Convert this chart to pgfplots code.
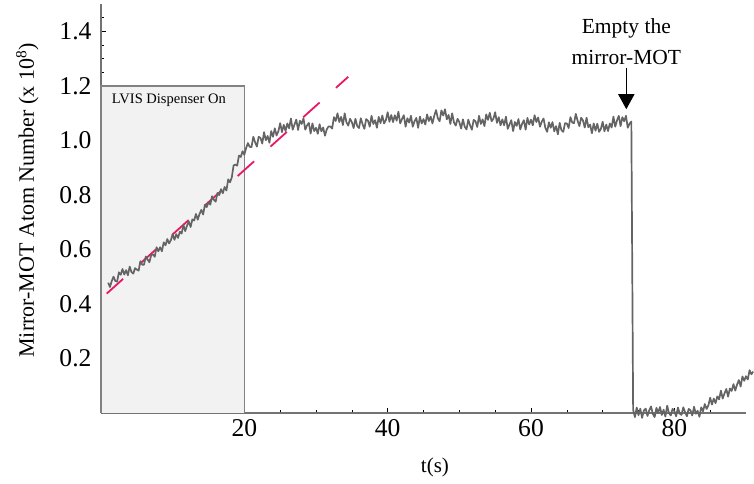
\documentclass[border=0pt]{standalone}
\usepackage{fontspec}
\setmainfont{Liberation Serif}
\usepackage{pgfplots}
\pgfplotsset{compat=1.18}
\usetikzlibrary{arrows.meta}
\definecolor{trace}{RGB}{100,100,100}
\definecolor{fitred}{RGB}{232,24,100}
\definecolor{boxfill}{RGB}{242,242,242}
\definecolor{boxedge}{RGB}{130,130,130}
\definecolor{axgray}{RGB}{115,115,115}
\begin{document}
\begin{tikzpicture}
\begin{axis}[name=ax, scale only axis, width=645bp, height=409bp,
  xmin=0, xmax=90, ymin=0, ymax=1.5,
  axis x line=bottom, axis y line=left,
  axis line style={-, draw=axgray, line width=1.6bp},
  xtick={20,40,60,80},
  minor xtick={5,10,15,25,30,35,45,50,55,65,70,75,85},
  ytick={0.2,0.4,0.6,0.8,1.0,1.2,1.4},
  minor ytick={0.05,0.1,0.15,0.25,0.3,0.35,0.45,0.5,0.55,0.65,0.7,0.75,0.85,0.9,0.95,1.05,1.1,1.15,1.25,1.3,1.35,1.45},
  tick align=inside, major tick length=5bp, minor tick length=3bp,
  tick style={black, line width=0.6bp},
  /pgf/number format/assume math mode=true,
  tick label style={font=\fontsize{25.6bp}{30bp}\selectfont, text=black},
  xticklabel style={yshift=-3bp},
  yticklabel style={xshift=-6bp, /pgf/number format/fixed, /pgf/number format/fixed zerofill, /pgf/number format/precision=1},
  clip=false,
]
% shaded dispenser-on region
\fill[boxfill] (axis cs:0,0) rectangle (axis cs:20,1.2);
\draw[boxedge, line width=1.5bp] (axis cs:0,0) -- (axis cs:0,1.2) -- (axis cs:20,1.2) -- (axis cs:20,0);
\node[anchor=base west, inner sep=0pt, font=\fontsize{14.5bp}{17bp}\selectfont] at (axis cs:1.5,1.135) {LVIS Dispenser On};
% linear fit
\addplot[fitred, line width=1.8bp, dash pattern=on 22bp off 22bp, forget plot] coordinates {(0.8,0.438) (34.5,1.233)};
% trace
\addplot[trace, line width=1.7bp, line join=round, sharp plot, forget plot] table[x expr={1+0.25*\coordindex}, y index=0, header=false] {
0.478
0.462
0.484
0.500
0.484
0.482
0.516
0.507
0.528
0.508
0.524
0.505
0.537
0.517
0.511
0.531
0.526
0.522
0.557
0.544
0.544
0.574
0.563
0.553
0.579
0.582
0.573
0.608
0.593
0.608
0.593
0.626
0.615
0.638
0.622
0.634
0.656
0.635
0.656
0.642
0.665
0.658
0.690
0.667
0.687
0.703
0.682
0.710
0.706
0.730
0.709
0.730
0.745
0.728
0.764
0.755
0.774
0.764
0.795
0.782
0.775
0.807
0.799
0.821
0.806
0.829
0.816
0.857
0.846
0.864
0.908
0.911
0.907
0.944
0.939
0.960
0.947
0.972
0.990
0.976
0.975
1.013
0.993
0.977
1.013
1.009
0.988
1.030
1.000
1.016
0.991
1.034
1.013
1.044
1.018
1.033
1.063
1.030
1.057
1.034
1.062
1.044
1.080
1.039
1.058
1.076
1.038
1.072
1.060
1.081
1.039
1.055
1.064
1.025
1.062
1.034
1.046
1.024
1.059
1.033
1.047
1.017
1.040
1.051
1.051
1.043
1.085
1.071
1.099
1.067
1.086
1.056
1.099
1.066
1.054
1.079
1.067
1.045
1.079
1.053
1.045
1.081
1.059
1.042
1.078
1.072
1.050
1.090
1.060
1.074
1.046
1.086
1.063
1.091
1.062
1.074
1.103
1.068
1.093
1.067
1.092
1.072
1.105
1.062
1.078
1.092
1.050
1.081
1.065
1.090
1.050
1.070
1.082
1.046
1.087
1.062
1.078
1.058
1.095
1.071
1.087
1.062
1.090
1.111
1.081
1.070
1.110
1.091
1.114
1.077
1.093
1.060
1.099
1.066
1.054
1.079
1.067
1.043
1.077
1.050
1.040
1.076
1.055
1.039
1.075
1.070
1.049
1.090
1.060
1.077
1.052
1.095
1.075
1.101
1.070
1.079
1.103
1.064
1.085
1.055
1.077
1.055
1.087
1.042
1.058
1.074
1.034
1.067
1.053
1.078
1.040
1.060
1.074
1.039
1.082
1.058
1.076
1.055
1.092
1.067
1.084
1.050
1.068
1.080
1.046
1.031
1.066
1.046
1.067
1.033
1.052
1.022
1.064
1.037
1.031
1.063
1.062
1.045
1.085
1.065
1.063
1.097
1.072
1.052
1.083
1.073
1.047
1.083
1.048
1.058
1.026
1.062
1.035
1.061
1.031
1.042
1.068
1.033
1.058
1.034
1.062
1.047
1.087
1.050
1.073
1.090
1.052
1.085
1.070
1.090
1.046
1.061
1.069
0.012
-0.015
0.020
-0.008
0.016
-0.018
0.009
0.016
-0.011
0.010
0.024
-0.003
-0.015
0.019
0.001
0.022
-0.007
0.012
-0.013
0.027
0.000
-0.009
0.015
0.007
-0.012
0.020
-0.002
-0.007
0.021
0.003
-0.012
0.015
0.010
-0.009
0.023
-0.003
0.008
-0.014
0.021
0.006
0.033
0.015
0.028
0.056
0.031
0.053
0.036
0.061
0.050
0.082
0.053
0.072
0.088
0.060
0.090
0.081
0.106
0.082
0.104
0.121
0.097
0.134
0.118
0.135
0.123
0.157
0.142
0.152
};
% annotation
\node[anchor=south, align=center, inner sep=0pt, font=\fontsize{21.5bp}{31bp}\selectfont] at (axis cs:73.3,1.275) {Empty the\\mirror-MOT};
\draw[line width=1.5bp, -{Triangle[width=16bp,length=15bp]}] (axis cs:73.3,1.265) -- (axis cs:73.3,1.114);
% axis labels
\node[anchor=base, font=\fontsize{21bp}{25bp}\selectfont] at ([yshift=-59bp]axis cs:46.6,0) {t(s)};
\node[rotate=90, anchor=center, font=\fontsize{22bp}{26bp}\selectfont] at (rel axis cs:-0.1143,0.52) {Mirror-MOT Atom Number (x 10\textsuperscript{8})};
\end{axis}
\pgfresetboundingbox
\path[use as bounding box] ([xshift=-101bp,yshift=-70bp]ax.south west) rectangle ([xshift=8bp,yshift=4bp]ax.north east);
\end{tikzpicture}
\end{document}
